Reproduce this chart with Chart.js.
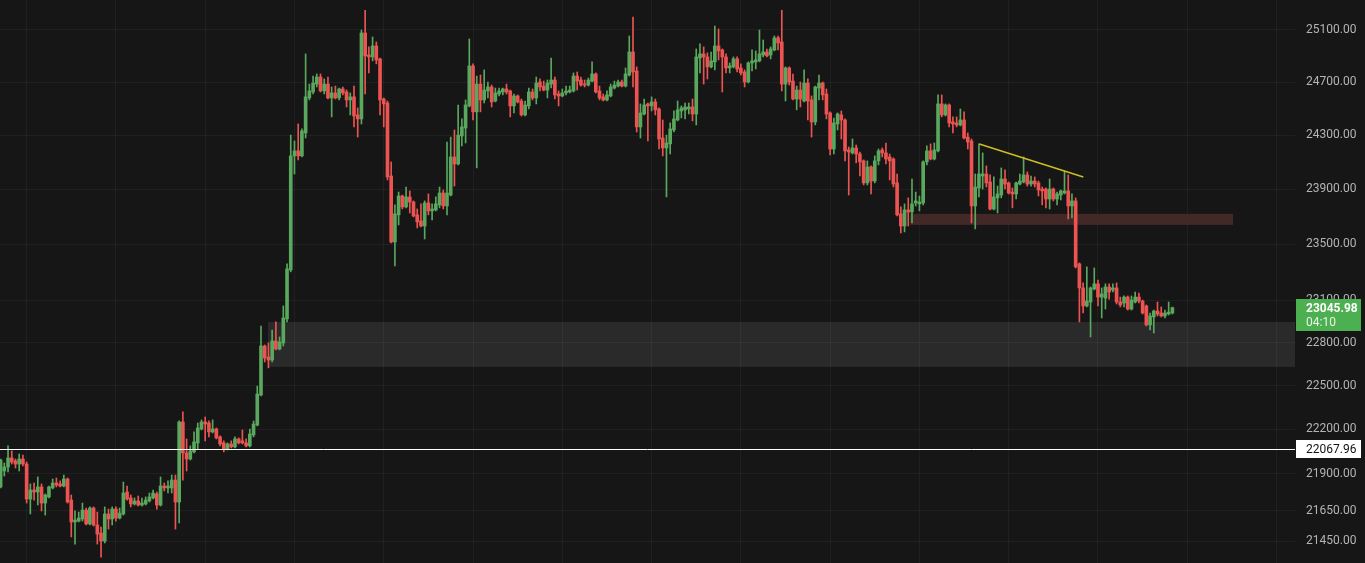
<!DOCTYPE html>
<html><head><meta charset="utf-8">
<script src="https://cdn.jsdelivr.net/npm/chart.js@4.4.1/dist/chart.umd.min.js"></script>
<style>html,body{margin:0;padding:0;background:#161616;overflow:hidden}canvas{display:block}</style>
</head><body>
<canvas id="c" width="1365" height="563"></canvas>
<script>
const openP = [
21810,21917,21944,22005,21985,21964,21998,21964,21729,21789,
21776,21810,21702,21743,21803,21836,21830,21816,21863,21722,
21576,21582,21596,21655,21563,21669,21556,21503,21450,21629,
21596,21662,21602,21629,21776,21736,21696,21716,21689,21696,
21716,21736,21763,21689,21816,21803,21803,21856,21709,22250,
22039,21998,22046,22107,22202,22250,22243,22182,22202,22148,
22107,22066,22100,22080,22134,22121,22107,22087,22161,22229,
22435,22776,22699,22678,22811,22755,22797,22966,23315,24147,
24184,24147,24318,24581,24626,24686,24740,24634,24686,24581,
24619,24581,24649,24626,24566,24589,24453,24423,25077,24908,
24893,24977,24878,24573,24543,23998,23516,23713,23851,23771,
23844,23807,23713,23669,23632,23800,23742,23749,23786,23873,
23778,23858,24139,24087,24295,24355,24521,24824,24476,24686,
24566,24634,24664,24558,24611,24626,24649,24634,24521,24596,
24558,24453,24521,24626,24581,24702,24671,24641,24686,24717,
24611,24596,24619,24626,24634,24747,24717,24686,24679,24709,
24763,24634,24589,24566,24596,24656,24671,24702,24671,24755,
24931,24786,24363,24460,24536,24521,24551,24498,24280,24206,
24236,24340,24415,24483,24491,24498,24513,24460,24885,24916,
24893,24817,24855,24977,24947,24893,24809,24817,24878,24809,
24778,24702,24847,24855,24863,24908,24931,24908,24947,25039,
25008,24686,24809,24709,24573,24641,24558,24694,24566,24400,
24656,24694,24611,24468,24198,24385,24453,24415,24191,24169,
24206,24161,24110,23947,24065,23961,24110,24191,24169,24139,
24124,23947,23720,23632,23749,23734,23800,23793,23800,24102,
24184,24124,24184,24536,24453,24528,24400,24393,24378,24415,
24287,24258,23778,23910,23998,24013,23954,23756,23837,23858,
23976,23947,23880,23866,23939,23954,24006,23939,23961,23947,
23902,23902,23829,23902,23829,23858,23873,23888,23778,23815,
23358,23186,23058,23086,23179,23215,23121,23114,23193,23172,
23186,23086,23079,23121,23036,23086,23121,23093,23058,22924,
22980,23022,23008,22987,23001,23008];
const highP = [
21998,21971,22087,22053,21998,22032,22025,21978,21830,21836,
21877,21830,21763,21816,21863,21870,21850,21890,21870,21756,
21650,21642,21702,21669,21676,21676,21642,21543,21676,21662,
21676,21676,21669,21843,21816,21756,21736,21749,21736,21743,
21769,21789,21776,21877,21836,21850,21890,21890,22257,22319,
22134,22087,22182,22243,22264,22284,22257,22264,22209,22155,
22121,22107,22121,22148,22141,22195,22134,22202,22257,22497,
22916,22783,22797,22888,22945,22839,23058,23358,24302,24258,
24385,24348,24916,24686,24747,24763,24763,24725,24740,24664,
24671,24656,24664,24641,24619,24671,24506,25100,25253,24970,
25046,25008,24885,24581,24558,24102,23786,23880,23858,23917,
23888,23815,23756,23793,23815,23866,23793,23844,23917,23895,
24250,24287,24340,24528,24423,24566,25031,24840,24747,24755,
24794,24702,24679,24656,24656,24656,24686,24641,24611,24604,
24573,24558,24656,24649,24740,24725,24709,24717,24885,24740,
24634,24649,24671,24671,24771,24778,24740,24717,24732,24855,
24771,24671,24611,24634,24686,24709,24717,24717,24809,25054,
25200,24817,24536,24573,24543,24589,24573,24506,24415,24302,
24393,24483,24558,24521,24543,24543,24573,24954,24993,24970,
24924,24931,25131,25108,24954,24916,24847,24893,24893,24840,
24794,24855,24947,24939,25100,25023,24954,24970,25054,25054,
25253,24817,24817,24763,24671,24702,24794,24725,24596,24671,
24755,24702,24649,24476,24430,24468,24483,24423,24213,24273,
24228,24176,24117,24110,24073,24147,24198,24206,24243,24161,
24132,24013,23771,23793,23837,23976,23880,23851,24110,24221,
24236,24243,24604,24604,24536,24536,24438,24438,24498,24476,
24318,24273,24013,24236,24169,24073,24006,23991,23924,24058,
24043,23954,23910,23954,24013,24139,24028,23998,23991,23961,
23917,23910,23976,23910,23880,23895,24035,24006,23866,23837,
23365,23222,23337,23193,23329,23243,23186,23215,23215,23215,
23222,23121,23129,23129,23129,23157,23150,23100,23065,23008,
23029,23086,23051,23029,23086,23050];
const lowP = [
21803,21883,21910,21964,21937,21917,21951,21702,21629,21722,
21689,21649,21622,21736,21796,21810,21810,21810,21702,21477,
21430,21576,21582,21556,21556,21549,21430,21344,21437,21529,
21556,21582,21596,21622,21722,21676,21689,21682,21682,21689,
21709,21729,21662,21682,21783,21769,21769,21529,21569,21856,
21917,21991,22039,22066,22195,22121,22148,22175,22134,22087,
22046,22059,22073,22073,22100,22100,22080,22080,22148,22223,
22429,22664,22623,22664,22748,22748,22776,22945,23301,24013,
24117,24139,24280,24566,24611,24664,24626,24611,24573,24438,
24573,24566,24604,24513,24453,24363,24287,24385,24611,24771,
24863,24840,24453,24363,23969,23509,23344,23640,23756,23764,
23727,23698,23618,23625,23538,23713,23676,23742,23764,23756,
23713,23851,23924,24080,24221,24243,24513,24415,24058,24476,
24543,24581,24513,24551,24596,24604,24611,24438,24468,24543,
24445,24445,24498,24566,24536,24634,24634,24581,24656,24573,
24521,24589,24604,24619,24626,24641,24671,24664,24671,24702,
24619,24566,24558,24558,24589,24649,24664,24664,24664,24747,
24664,24325,24280,24453,24258,24483,24453,24198,24147,23844,
24161,24325,24408,24430,24423,24460,24408,24378,24771,24686,
24725,24809,24794,24870,24626,24771,24771,24809,24778,24755,
24664,24694,24786,24801,24855,24893,24893,24878,24939,24947,
24634,24558,24679,24566,24491,24513,24551,24415,24287,24378,
24566,24566,24423,24154,24161,24340,24273,24110,23858,24161,
24095,23998,23932,23932,23866,23947,24080,24139,24087,23969,
23917,23705,23581,23589,23632,23654,23778,23742,23786,24080,
24117,24117,24176,24438,24445,24363,24318,24363,24370,24273,
24198,23654,23611,23844,23902,23917,23749,23749,23727,23837,
23902,23866,23764,23829,23932,23947,23924,23924,23917,23851,
23786,23764,23756,23815,23786,23822,23866,23683,23691,23329,
22945,23008,23051,22839,23172,23058,22973,23036,23107,23157,
23072,23051,23051,23029,23029,23079,23079,23001,22916,22888,
22867,22987,22980,22973,22994,23001];
const closeP = [
21991,21944,22005,21978,21964,21998,21964,21729,21789,21776,
21810,21702,21756,21810,21836,21823,21816,21863,21709,21576,
21589,21602,21655,21563,21669,21556,21496,21450,21629,21596,
21662,21602,21635,21769,21729,21696,21716,21689,21702,21722,
21743,21769,21689,21816,21803,21816,21856,21709,22250,22039,
21998,22053,22114,22209,22250,22236,22182,22202,22141,22100,
22066,22100,22080,22134,22107,22107,22087,22168,22236,22442,
22776,22692,22678,22811,22755,22804,22973,23322,24147,24184,
24147,24333,24589,24634,24694,24740,24634,24686,24581,24619,
24581,24649,24619,24566,24589,24445,24423,25077,24901,24893,
24977,24870,24566,24536,23991,23516,23720,23851,23771,23844,
23807,23705,23662,23632,23800,23742,23756,23793,23873,23778,
23873,24139,24087,24302,24363,24528,24824,24476,24686,24566,
24641,24664,24551,24619,24634,24649,24626,24521,24596,24551,
24453,24528,24626,24581,24694,24664,24641,24694,24717,24604,
24596,24619,24634,24641,24747,24709,24679,24679,24717,24763,
24626,24581,24566,24604,24664,24679,24702,24671,24763,24931,
24778,24363,24468,24528,24521,24551,24491,24273,24206,24243,
24348,24423,24491,24506,24513,24513,24460,24893,24916,24893,
24817,24863,24977,24939,24893,24809,24824,24878,24801,24771,
24702,24847,24863,24870,24916,24931,24901,24954,25039,25000,
24686,24809,24702,24573,24641,24573,24694,24558,24400,24664,
24694,24604,24460,24198,24393,24460,24415,24184,24176,24206,
24161,24102,23947,24065,23961,24110,24184,24169,24124,24110,
23939,23713,23632,23749,23734,23793,23815,23807,24102,24184,
24124,24191,24536,24453,24528,24393,24385,24378,24415,24280,
24250,23778,23917,24013,24013,23947,23756,23844,23866,23976,
23939,23873,23866,23947,23961,24006,23939,23961,23939,23895,
23888,23829,23902,23829,23866,23888,23888,23778,23815,23337,
23186,23058,23093,23186,23215,23121,23143,23193,23157,23186,
23086,23065,23121,23036,23100,23121,23093,23008,22924,22987,
23022,23001,22987,23008,23015,23045.98];

const priceTicks = [25100,24700,24300,23900,23500,23100,22800,22500,22200,21900,21650,21450];
const dayLines = [7,31,55,79,103,127,151,175,199,223,247,271,295,319,343];
const viewIndex = [-0.16, 347.96];
const viewPrice = [21305.6, 25332.6];
const lastPrice = [23045.98];
const countdown = ['04:10'];
const levelLine = [22067.96];
const demandZoneIdx = [71.9, 347.96];
const demandZonePrice = [22630, 22945];
const supplyZoneIdx = [244.5, 331.3];
const supplyZonePrice = [23640, 23720];
const trendIdx = [263.1, 291.05];
const trendPrice = [24236, 23991];

const UP = '#5aa75e', DOWN = '#ec5452';
const cols = closeP.map((c, i) => c >= openP[i] ? UP : DOWN);

const overlay = {
  id: 'overlay',
  beforeDatasetsDraw(chart) {
    const {ctx, chartArea: a, scales: {x, y}} = chart;
    ctx.save();
    ctx.beginPath(); ctx.rect(a.left, a.top, a.right - a.left, a.bottom - a.top); ctx.clip();
    let x0 = x.getPixelForValue(demandZoneIdx[0]), x1 = x.getPixelForValue(demandZoneIdx[1]);
    let y0 = y.getPixelForValue(demandZonePrice[1]), y1 = y.getPixelForValue(demandZonePrice[0]);
    ctx.fillStyle = 'rgba(255,255,255,0.085)';
    ctx.fillRect(x0, y0, x1 - x0, y1 - y0);
    x0 = x.getPixelForValue(supplyZoneIdx[0]); x1 = x.getPixelForValue(supplyZoneIdx[1]);
    y0 = y.getPixelForValue(supplyZonePrice[1]); y1 = y.getPixelForValue(supplyZonePrice[0]);
    ctx.fillStyle = '#432828';
    ctx.fillRect(x0, y0, x1 - x0, y1 - y0);
    ctx.restore();
  },
  afterDatasetsDraw(chart) {
    const {ctx, chartArea: a, scales: {y}} = chart;
    const py = Math.round(y.getPixelForValue(levelLine[0])) + 0.5;
    ctx.save();
    ctx.strokeStyle = '#ffffff'; ctx.lineWidth = 1;
    ctx.beginPath(); ctx.moveTo(a.left, py); ctx.lineTo(a.right, py); ctx.stroke();
    ctx.restore();
  },
  afterDraw(chart) {
    const {ctx, chartArea: a, scales: {y}} = chart;
    ctx.save();
    const font = 'Roboto, "Liberation Sans", sans-serif';
    let py = y.getPixelForValue(levelLine[0]);
    ctx.fillStyle = '#ffffff';
    ctx.fillRect(a.right + 1, Math.round(py) - 9, 65, 18);
    ctx.fillStyle = '#131313'; ctx.font = '12px ' + font; ctx.textBaseline = 'middle'; ctx.textAlign = 'left';
    ctx.fillText(levelLine[0].toFixed(2), a.right + 11, Math.round(py) + 0.5);
    py = y.getPixelForValue(lastPrice[0]);
    ctx.fillStyle = '#4caf50';
    ctx.fillRect(a.right + 1, Math.round(py) - 9, 65, 32);
    ctx.fillStyle = '#ffffff'; ctx.font = 'bold 12px ' + font;
    ctx.fillText(lastPrice[0].toFixed(2), a.right + 11, Math.round(py) + 0.5);
    ctx.fillStyle = '#e8f5e9'; ctx.font = '12px ' + font;
    ctx.fillText(countdown[0], a.right + 11, Math.round(py) + 14.5);
    ctx.restore();
  }
};

new Chart(document.getElementById('c'), {
  type: 'bar',
  data: {
    datasets: [
      {
        type: 'line',
        data: trendIdx.map((v, i) => ({x: v, y: trendPrice[i]})),
        borderColor: '#cdbf22', borderWidth: 1.5, pointRadius: 0, order: 1
      },
      {
        data: openP.map((o, i) => ({x: i, y: [o, closeP[i]]})),
        backgroundColor: cols, barThickness: 3, minBarLength: 1, grouped: false, order: 2, borderWidth: 0
      },
      {
        data: openP.map((o, i) => ({x: i, y: [lowP[i], highP[i]]})),
        backgroundColor: cols, barThickness: 1, grouped: false, order: 3, borderWidth: 0
      }
    ]
  },
  options: {
    responsive: false, animation: false, devicePixelRatio: 1,
    layout: {padding: 0},
    plugins: {legend: {display: false}, tooltip: {enabled: false}},
    scales: {
      x: {
        type: 'linear', min: viewIndex[0], max: viewIndex[1], bounds: 'data', offset: false,
        grid: {color: 'rgba(255,255,255,0.045)', drawTicks: false, offset: false},
        border: {display: false},
        ticks: {display: false},
        afterBuildTicks: s => { s.ticks = dayLines.map(v => ({value: v})); },
        afterFit: s => { s.height = 0; }
      },
      y: {
        type: 'logarithmic', position: 'right', min: viewPrice[0], max: viewPrice[1], bounds: 'data',
        grid: {color: 'rgba(255,255,255,0.045)', drawTicks: false},
        border: {display: false},
        ticks: {
          color: '#b4b4b4', padding: 11, autoSkip: false,
          font: {family: 'Roboto, "Liberation Sans", sans-serif', size: 12},
          callback: v => Number(v).toFixed(2)
        },
        afterBuildTicks: s => { s.ticks = priceTicks.map(v => ({value: v})); },
        afterFit: s => { s.width = 70; s.paddingTop = 0; s.paddingBottom = 0; }
      }
    }
  },
  plugins: [overlay]
});
</script>
</body></html>
